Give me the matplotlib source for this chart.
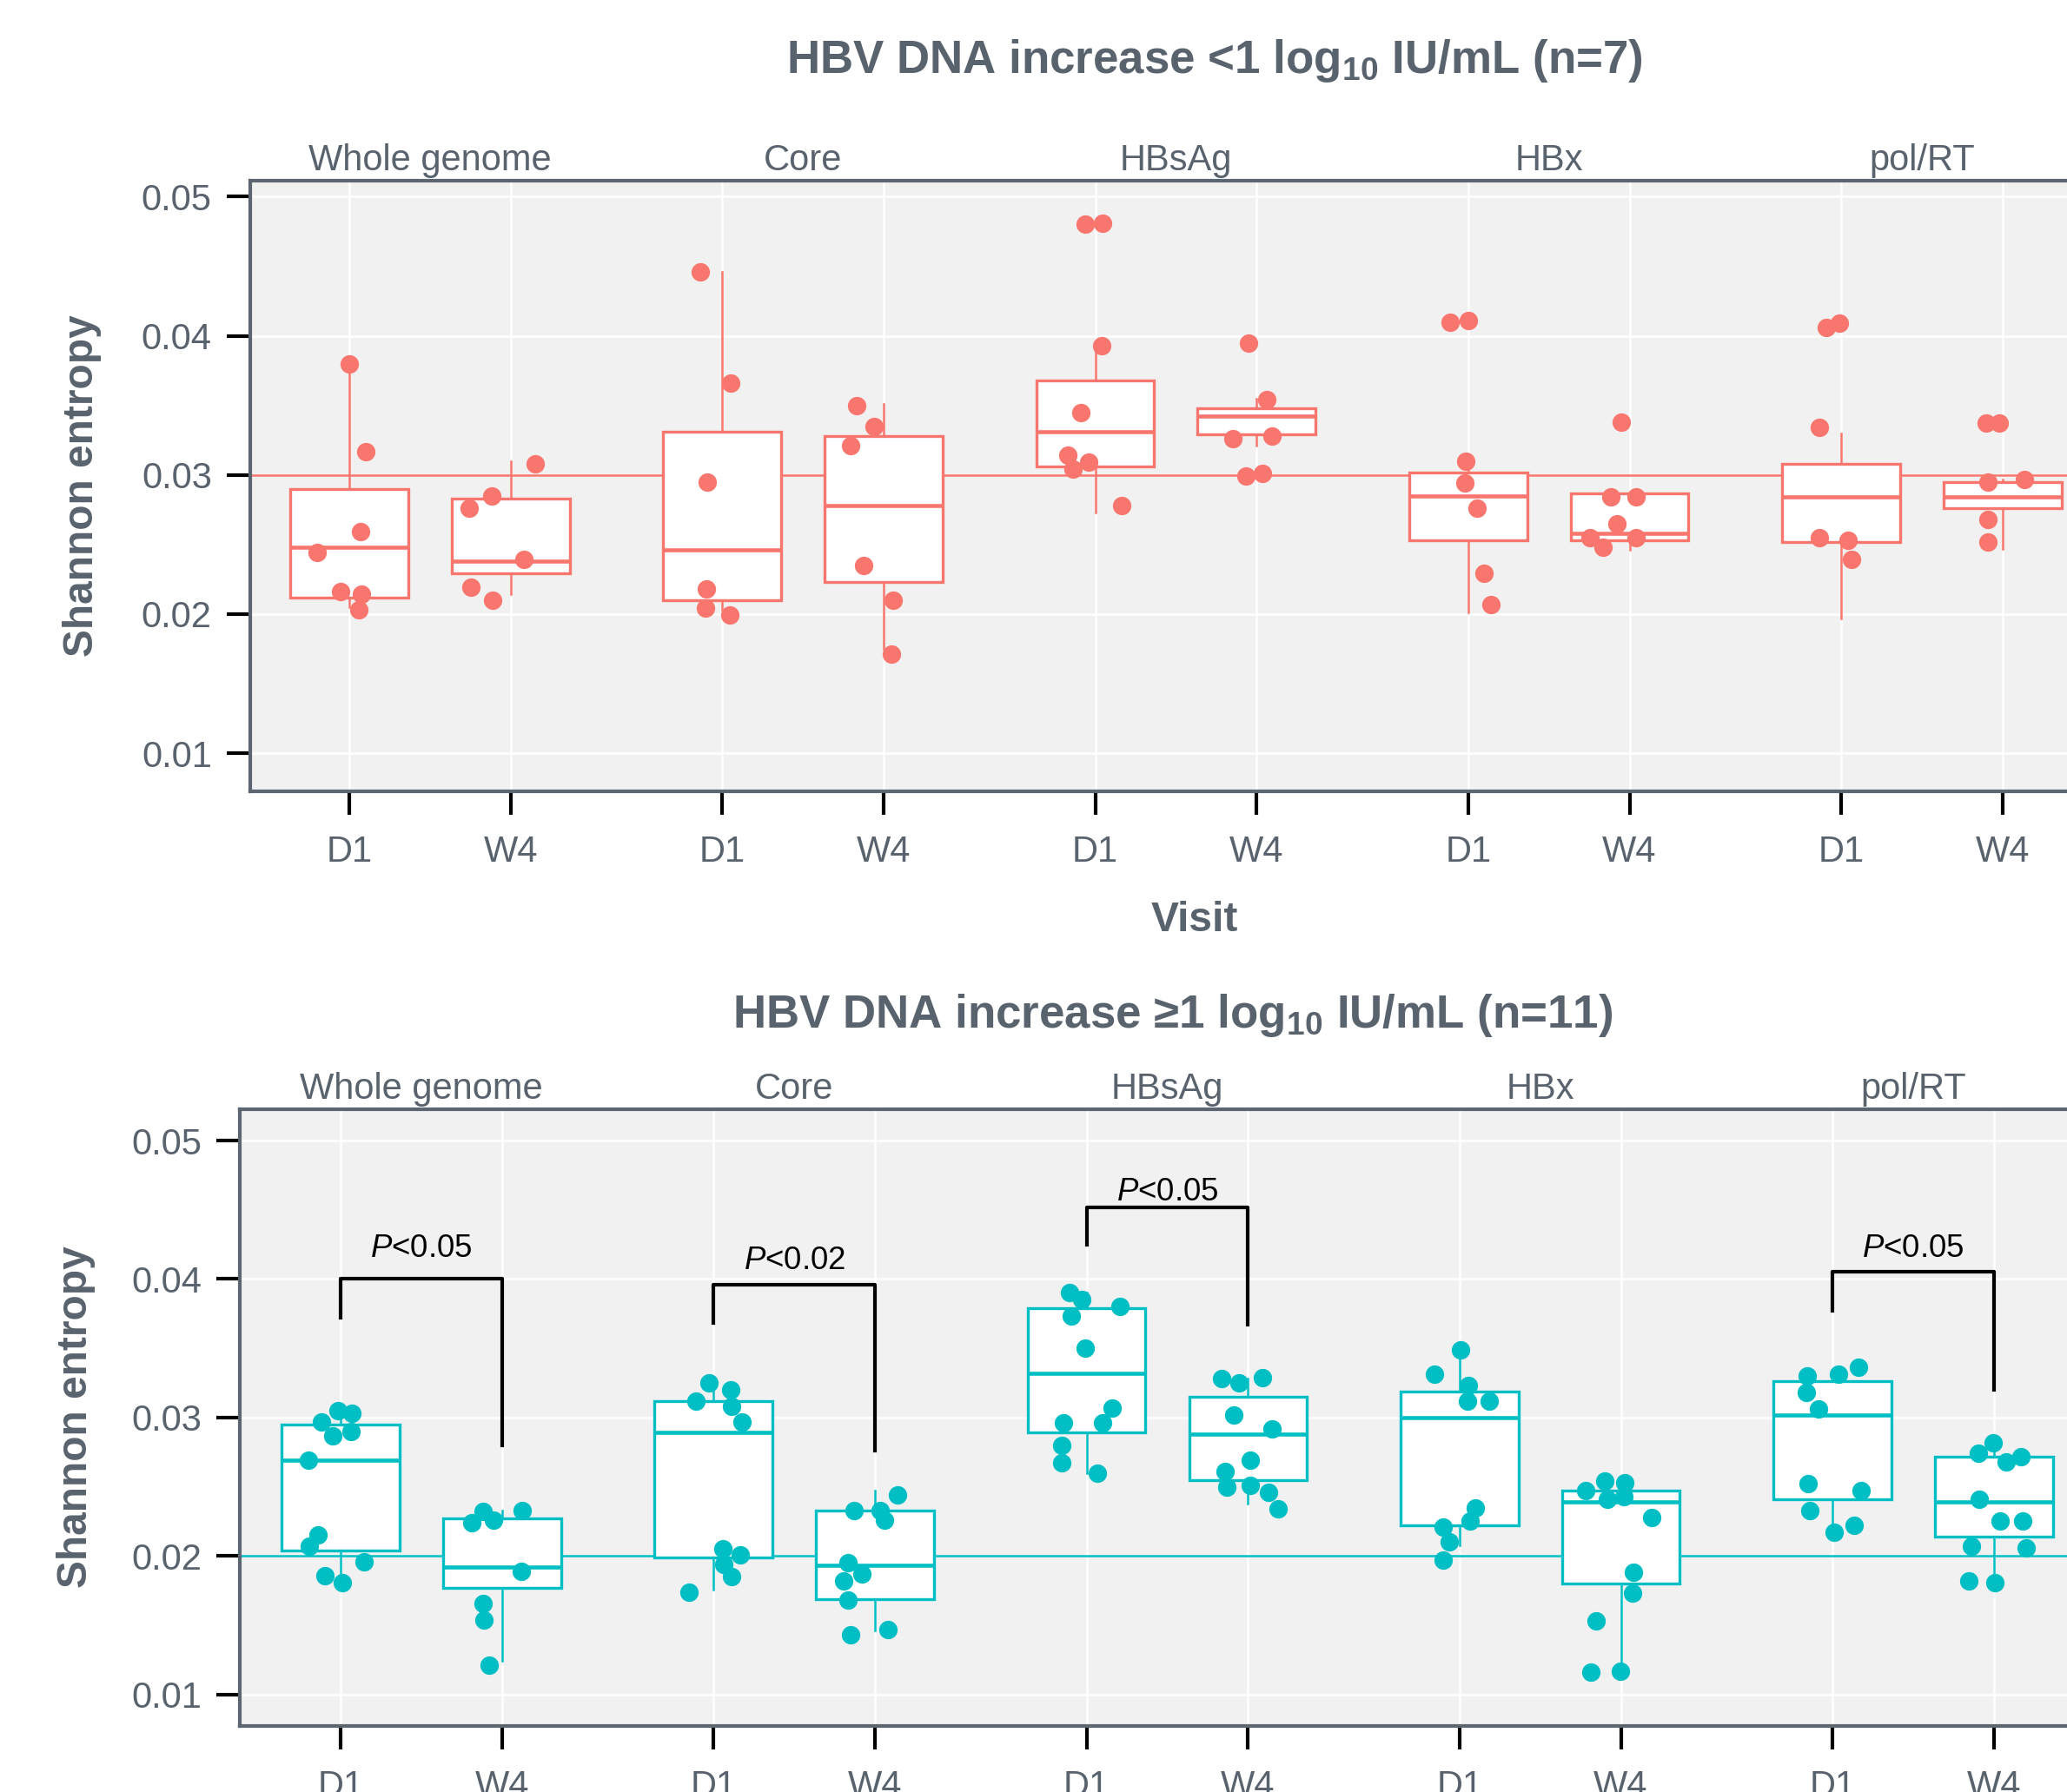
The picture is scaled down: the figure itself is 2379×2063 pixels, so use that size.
import numpy as np
import matplotlib.pyplot as plt

plt.rcParams['font.family'] = ['Liberation Sans', 'DejaVu Sans']
plt.rcParams['mathtext.fontset'] = 'custom'
plt.rcParams['mathtext.rm'] = 'Liberation Sans'
plt.rcParams['mathtext.it'] = 'Liberation Sans:italic'
plt.rcParams['mathtext.bf'] = 'Liberation Sans:bold'

regions = ["Whole genome", "Core", "HBsAg", "HBx", "pol/RT"]
visits = ["D1", "W4"]

# ---- HBV DNA increase <1 log10 (n=7), order: region x visit ----
lo_q1 = [0.0212, 0.0229, 0.0210, 0.0223, 0.0306, 0.0329, 0.0253, 0.0253, 0.0252, 0.0276]
lo_med = [0.0248, 0.0238, 0.0246, 0.0278, 0.0331, 0.0342, 0.0285, 0.0258, 0.0284, 0.0284]
lo_q3 = [0.0290, 0.0283, 0.0331, 0.0328, 0.0368, 0.0348, 0.0302, 0.0287, 0.0308, 0.0295]
lo_whislo = [0.0205, 0.0214, 0.0203, 0.0175, 0.0273, 0.0321, 0.0201, 0.0246, 0.0197, 0.0247]
lo_whishi = [0.0380, 0.0310, 0.0446, 0.0351, 0.0393, 0.0355, 0.0306, 0.0287, 0.0330, 0.0297]
lo_vals = [
    [0.0380, 0.0317, 0.0259, 0.0244, 0.0216, 0.0214, 0.0203],
    [0.0308, 0.0285, 0.0276, 0.0239, 0.0219, 0.0210],
    [0.0446, 0.0366, 0.0295, 0.0218, 0.0204, 0.0199],
    [0.0350, 0.0335, 0.0321, 0.0235, 0.0210, 0.0171],
    [0.0480, 0.0481, 0.0393, 0.0345, 0.0314, 0.0309, 0.0304, 0.0278],
    [0.0395, 0.0354, 0.0326, 0.0328, 0.0299, 0.0301],
    [0.0410, 0.0411, 0.0310, 0.0294, 0.0276, 0.0229, 0.0207],
    [0.0338, 0.0284, 0.0284, 0.0265, 0.0255, 0.0255, 0.0248],
    [0.0406, 0.0409, 0.0334, 0.0255, 0.0253, 0.0239],
    [0.0337, 0.0337, 0.0295, 0.0297, 0.0268, 0.0252],
]
# horizontal jitter as drawn in the original
lo_jit = [
    [0.0, 0.10, 0.07, -0.20, -0.055, 0.076, 0.06],
    [0.15, -0.12, -0.26, 0.08, -0.245, -0.11],
    [-0.137, 0.05, -0.094, -0.096, -0.105, 0.047],
    [-0.167, -0.058, -0.205, -0.123, 0.056, 0.047],
    [-0.061, 0.047, 0.04, -0.09, -0.167, -0.038, -0.135, 0.164],
    [-0.05, 0.064, -0.146, 0.094, -0.064, 0.038],
    [-0.111, 0.0, -0.012, -0.018, 0.053, 0.10, 0.14],
    [-0.053, -0.117, 0.041, -0.076, -0.246, 0.041, -0.164],
    [-0.091, -0.012, -0.132, -0.132, 0.041, 0.066],
    [-0.103, -0.018, -0.091, 0.135, -0.091, -0.091],
]

# ---- HBV DNA increase >=1 log10 (n=11) ----
hi_q1 = [0.0204, 0.0177, 0.0199, 0.0169, 0.0289, 0.0255, 0.0222, 0.0180, 0.0241, 0.0214]
hi_med = [0.0269, 0.0192, 0.0289, 0.0193, 0.0332, 0.0288, 0.0300, 0.0239, 0.0302, 0.0239]
hi_q3 = [0.0295, 0.0227, 0.0312, 0.0233, 0.0379, 0.0315, 0.0319, 0.0247, 0.0326, 0.0272]
hi_whislo = [0.0182, 0.0124, 0.0176, 0.0146, 0.0260, 0.0238, 0.0208, 0.0121, 0.0220, 0.0182]
hi_whishi = [0.0304, 0.0233, 0.0324, 0.0247, 0.0390, 0.0328, 0.0349, 0.0249, 0.0330, 0.0282]
hi_vals = [
    [0.0305, 0.0303, 0.0297, 0.0287, 0.0290, 0.0269, 0.0215, 0.0207, 0.0196, 0.0186, 0.0181],
    [0.0232, 0.0233, 0.0224, 0.0226, 0.0189, 0.0166, 0.0154, 0.0121],
    [0.0325, 0.0320, 0.0312, 0.0308, 0.0297, 0.0205, 0.0201, 0.0194, 0.0185, 0.0174],
    [0.0244, 0.0233, 0.0233, 0.0226, 0.0195, 0.0187, 0.0182, 0.0168, 0.0147, 0.0143],
    [0.0390, 0.0385, 0.0380, 0.0373, 0.0350, 0.0307, 0.0296, 0.0296, 0.0280, 0.0267, 0.0260],
    [0.0328, 0.0325, 0.0329, 0.0302, 0.0292, 0.0269, 0.0261, 0.0250, 0.0251, 0.0246, 0.0234],
    [0.0349, 0.0331, 0.0323, 0.0312, 0.0312, 0.0235, 0.0225, 0.0221, 0.0210, 0.0197],
    [0.0254, 0.0253, 0.0247, 0.0241, 0.0243, 0.0228, 0.0188, 0.0173, 0.0153, 0.0116, 0.0117],
    [0.0330, 0.0331, 0.0336, 0.0318, 0.0306, 0.0252, 0.0247, 0.0233, 0.0222, 0.0217],
    [0.0282, 0.0274, 0.0268, 0.0272, 0.0241, 0.0225, 0.0225, 0.0207, 0.0206, 0.0182, 0.0181],
]
hi_jit = [
    [-0.018, 0.067, -0.12, -0.05, 0.065, -0.202, -0.141, -0.196, 0.147, -0.097, 0.009],
    [-0.12, 0.123, -0.19, -0.053, 0.12, -0.117, -0.111, -0.082],
    [-0.03, 0.108, -0.108, 0.114, 0.176, 0.059, 0.167, 0.065, 0.111, -0.155],
    [0.141, -0.132, 0.03, 0.059, -0.17, -0.082, -0.196, -0.167, 0.082, -0.152],
    [-0.103, -0.03, 0.205, -0.094, -0.006, 0.161, -0.141, 0.1, -0.155, -0.152, 0.065],
    [-0.164, -0.053, 0.088, -0.088, 0.147, 0.012, -0.141, -0.132, 0.012, 0.126, 0.188],
    [0.006, -0.152, 0.053, 0.05, 0.185, 0.097, 0.065, -0.1, -0.062, -0.1],
    [-0.1, 0.026, -0.22, -0.082, 0.018, 0.19, 0.079, 0.073, -0.155, -0.185, -0.003],
    [-0.158, 0.038, 0.163, -0.162, -0.084, -0.153, 0.176, -0.142, 0.133, 0.011],
    [-0.004, -0.095, 0.077, 0.167, -0.088, 0.038, 0.18, -0.138, 0.203, -0.154, 0.005],
]

# significance brackets (bottom panel), one per region
p_labels = ["<0.05", "<0.02", "<0.05", None, "<0.05"]
p_top = [0.0400, 0.0396, 0.0452, None, 0.0405]
p_left_end = [0.0372, 0.0368, 0.0425, None, 0.0377]
p_right_end = [0.0280, 0.0276, 0.0367, None, 0.0320]
p_text_y = [0.0416, 0.0407, 0.0457, None, 0.0416]

RED = '#F8766D'
TEAL = '#00BFC4'
GREY = '#59636e'
STEP = 2.31

pos = [g * STEP + v for g in range(len(regions)) for v in range(len(visits))]


def draw_panel(ax, q1, med, q3, wlo, whi, vals, jit, color, ref, ylim, xlim):
    ax.set_facecolor('#f1f1f1')
    ax.set_axisbelow(True)
    ax.grid(True, color='white', linewidth=0.6)
    ax.axhline(ref, color=color, linewidth=0.6, zorder=1.5)

    stats = [dict(q1=a, med=b, q3=c, whislo=d, whishi=e)
             for a, b, c, d, e in zip(q1, med, q3, wlo, whi)]
    ax.bxp(stats, positions=pos, widths=0.73, showfliers=False, showcaps=False,
           patch_artist=True, manage_ticks=False,
           boxprops=dict(facecolor='white', edgecolor=color, linewidth=0.8),
           medianprops=dict(color=color, linewidth=1.1),
           whiskerprops=dict(color=color, linewidth=0.6))
    for p, v, j in zip(pos, vals, jit):
        ax.scatter(p + np.array(j), v, s=26, color=color, linewidths=0, zorder=4)

    ax.set_xlim(*xlim)
    ax.set_ylim(*ylim)
    ax.set_xticks(pos, visits * len(regions))
    ax.set_yticks([0.01, 0.02, 0.03, 0.04, 0.05],
                  ['0.01', '0.02', '0.03', '0.04', '0.05'])
    ax.tick_params(axis='both', length=6.5, width=1.0, color='black',
                   labelcolor=GREY, labelsize=10)
    ax.tick_params(axis='y', pad=4)
    ax.tick_params(axis='x', pad=5.5)
    for side in ['left', 'top', 'bottom']:
        ax.spines[side].set_color('#5c6670')
        ax.spines[side].set_linewidth(1.0)
    ax.spines['right'].set_visible(False)

    for g, name in enumerate(regions):
        ax.text(g * STEP + 0.5, 1.017, name, transform=ax.get_xaxis_transform(),
                ha='center', va='baseline', fontsize=10, color=GREY)


fig = plt.figure(figsize=(2379 / 300, 2063 / 300), dpi=300)

ax1 = fig.add_axes([0.1209, 0.5586, 0.896, 0.3405])
draw_panel(ax1, lo_q1, lo_med, lo_q3, lo_whislo, lo_whishi, lo_vals, lo_jit,
           RED, 0.03, (0.00728, 0.05114), (-0.616, 10.856))

ax2 = fig.add_axes([0.1160, 0.0368, 0.8974, 0.3442])
draw_panel(ax2, hi_q1, hi_med, hi_q3, hi_whislo, hi_whishi, hi_vals, hi_jit,
           TEAL, 0.02, (0.00772, 0.05226), (-0.625, 10.865))

for g, lab in enumerate(p_labels):
    if lab is None:
        continue
    x0 = g * STEP
    x1 = x0 + 1
    ax2.plot([x0, x0, x1, x1], [p_left_end[g], p_top[g], p_top[g], p_right_end[g]],
             color='black', linewidth=1.0, zorder=5)
    ax2.text((x0 + x1) / 2, p_text_y[g], r'$\mathit{P}$' + lab, ha='center',
             va='baseline', fontsize=8.8, color='black')

fig.text(1398 / 2379, 1 - 84 / 2063,
         r'HBV DNA increase <1 log$_{\mathbf{10}}$ IU/mL (n=7)',
         ha='center', va='baseline', fontsize=12.7, fontweight='bold', color=GREY)
fig.text(1350 / 2379, 1 - 1183 / 2063,
         r'HBV DNA increase ≥1 log$_{\mathbf{10}}$ IU/mL (n=11)',
         ha='center', va='baseline', fontsize=12.7, fontweight='bold', color=GREY)

fig.text(95 / 2379, 1 - 559 / 2063, 'Shannon entropy', rotation=90,
         ha='center', va='center', fontsize=11.5, fontweight='bold', color=GREY)
fig.text(88 / 2379, 1 - 1631 / 2063, 'Shannon entropy', rotation=90,
         ha='center', va='center', fontsize=11.5, fontweight='bold', color=GREY)
fig.text(1375 / 2379, 1 - 1072 / 2063, 'Visit', ha='center', va='baseline',
         fontsize=11.5, fontweight='bold', color=GREY)

fig.savefig('out.png', dpi=300)
